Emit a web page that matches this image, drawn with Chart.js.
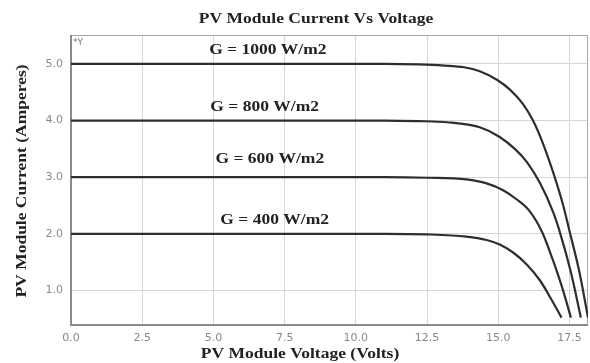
<!DOCTYPE html>
<html>
<head>
<meta charset="utf-8">
<script src="https://cdn.jsdelivr.net/npm/chart.js@4"></script>
<style>
html,body{margin:0;padding:0;background:#fff;}
canvas{display:block;}
</style>
</head>
<body>
<canvas id="c" width="590" height="363"></canvas>
<script>
// ---- data ----
const seriesNames = ["G = 1000 W/m2", "G = 800 W/m2", "G = 600 W/m2", "G = 400 W/m2"];
const v1000 = [0, 6, 11, 12.2, 13.1, 13.8, 14.35, 14.95, 15.4, 15.87, 16.22, 16.55, 16.93, 17.28, 17.49, 17.85, 18.15];
const i1000 = [5.0, 5.0, 5.0, 4.99, 4.97, 4.94, 4.87, 4.72, 4.55, 4.29, 4.0, 3.62, 3.08, 2.5, 2.07, 1.32, 0.52];
const v800 = [0, 6, 11, 12.2, 13.2, 14.35, 15.05, 15.6, 16.0, 16.46, 16.93, 17.12, 17.55, 17.9];
const i800 = [4.0, 4.0, 4.0, 3.99, 3.97, 3.88, 3.71, 3.49, 3.27, 2.9, 2.38, 2.1, 1.32, 0.52];
const v600 = [0, 6, 11, 12.5, 13.88, 14.59, 15.17, 15.64, 16.1, 16.55, 16.9, 17.25, 17.55];
const i600 = [3.0, 3.0, 3.0, 2.99, 2.96, 2.89, 2.77, 2.61, 2.4, 2.02, 1.56, 1.04, 0.52];
const v400 = [0, 6, 11, 12.5, 13.88, 14.59, 15.05, 15.52, 16.0, 16.46, 16.81, 17.22];
const i400 = [2.0, 2.0, 2.0, 1.99, 1.95, 1.89, 1.81, 1.67, 1.46, 1.18, 0.89, 0.52];
const xTicks = [0, 2.5, 5, 7.5, 10, 12.5, 15, 17.5];
const yTicks = [1, 2, 3, 4, 5];
// label anchor positions (data coords)
const labelX = [6.91, 6.8, 6.98, 7.15];
const labelY = [5.23, 4.23, 3.32, 2.23];

const titleText = "PV Module Current Vs Voltage";
const xTitle = "PV Module Voltage (Volts)";
const yTitle = "PV Module Current (Amperes)";

function pts(vs, is){ return vs.map((v,k)=>({x:v, y:is[k]})); }
const allV = [v1000, v800, v600, v400];
const allI = [i1000, i800, i600, i400];

const SERIF = 'bold 14px "Liberation Serif", "DejaVu Serif", serif';
const SX = 1.25;

function stretchedText(ctx, text, x, y, rot){
  ctx.save();
  ctx.translate(x, y);
  if (rot) ctx.rotate(rot);
  ctx.scale(SX, 1);
  ctx.fillText(text, 0, 0);
  ctx.restore();
}

const decor = {
  id: 'decor',
  beforeDatasetsDraw(chart){
    const {ctx, chartArea:a} = chart;
    ctx.save();
    ctx.strokeStyle = '#a8a8a8';
    ctx.lineWidth = 1;
    ctx.strokeRect(a.left+0.5, a.top+0.5, a.right-a.left-1, a.bottom-a.top-1);
    ctx.strokeStyle = '#8a8a8a';
    ctx.lineWidth = 2;
    ctx.beginPath();
    ctx.moveTo(a.left, a.top); ctx.lineTo(a.left, a.bottom); ctx.lineTo(a.right, a.bottom);
    ctx.stroke();
    ctx.restore();
  },
  afterDraw(chart){
    const {ctx, chartArea:a, scales} = chart;
    ctx.save();
    ctx.fillStyle = '#222';
    ctx.font = SERIF;
    ctx.textAlign = 'center';
    ctx.textBaseline = 'middle';
    stretchedText(ctx, titleText, 316, 19);
    stretchedText(ctx, xTitle, 300, 354);
    stretchedText(ctx, yTitle, 22, 181, -Math.PI/2);
    seriesNames.forEach((n,k)=>{
      stretchedText(ctx, n, scales.x.getPixelForValue(labelX[k]), scales.y.getPixelForValue(labelY[k]));
    });
    ctx.font = '9px "DejaVu Sans", sans-serif';
    ctx.fillStyle = '#777';
    ctx.textAlign = 'left';
    ctx.fillText('*Y', a.left + 2, a.top + 8);
    ctx.restore();
  }
};

new Chart(document.getElementById('c'), {
  type: 'line',
  data: {
    datasets: seriesNames.map((n,k)=>({
      label: n,
      data: pts(allV[k], allI[k]),
      borderColor: '#2e2e2e',
      borderWidth: 2.2,
      pointRadius: 0,
      fill: false,
      cubicInterpolationMode: 'monotone'
    }))
  },
  options: {
    responsive: false,
    animation: false,
    layout: { padding: { top: 35, right: 2, left: 0, bottom: 0 } },
    plugins: { legend: { display: false }, title: { display: false }, tooltip: { enabled: false } },
    scales: {
      x: {
        type: 'linear', min: 0, max: 18.15,
        afterBuildTicks: s => { s.ticks = xTicks.map(v=>({value:v})); },
        afterFit: s => { s.height = 38; },
        grid: { color: '#d6d6d6', lineWidth: 1, drawTicks: false },
        border: { display: false },
        ticks: { padding: 7, color: '#888', font: { family: 'DejaVu Sans', size: 11 },
                 callback: v => Number(v).toFixed(1), maxRotation: 0, autoSkip: false }
      },
      y: {
        type: 'linear', min: 0.39, max: 5.51,
        afterBuildTicks: s => { s.ticks = yTicks.map(v=>({value:v})); },
        afterFit: s => { s.width = 71; },
        grid: { color: '#d6d6d6', lineWidth: 1, drawTicks: false },
        border: { display: false },
        ticks: { padding: 8, color: '#888', font: { family: 'DejaVu Sans', size: 11 },
                 callback: v => Number(v).toFixed(1), autoSkip: false }
      }
    }
  },
  plugins: [decor]
});
</script>
</body>
</html>
